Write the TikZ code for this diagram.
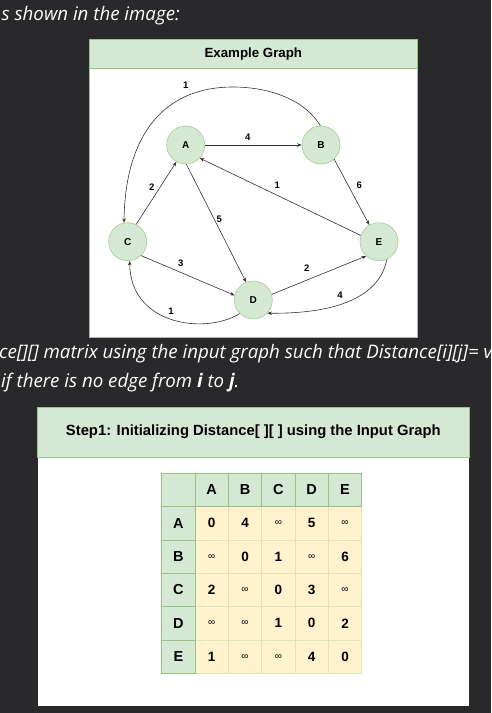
\documentclass[tikz,border=0pt]{standalone}
\usepackage{fontspec}
\setmainfont{Liberation Sans}
\newfontfamily\bodyfont{Open Sans}
\usetikzlibrary{arrows.meta}
\definecolor{bg}{HTML}{29292B}
\definecolor{gfill}{HTML}{D5E8D4}
\definecolor{gline}{HTML}{82B366}
\definecolor{yfill}{HTML}{FFF2CC}
\definecolor{yline}{HTML}{DDE4B6}
\definecolor{edgec}{HTML}{333333}
\tikzset{
  vtx/.style={circle, fill=gfill, draw=gline!70, line width=0.6pt, minimum size=38pt, inner sep=0pt, font=\bfseries\fontsize{10}{11}\selectfont},
  arr/.style={-{Stealth[length=4.5pt,width=3.5pt]}, draw=edgec, line width=0.6pt},
  elab/.style={inner sep=0pt, font=\bfseries\fontsize{9.5}{10}\selectfont},
  body/.style={inner sep=0pt, text=white, font=\bodyfont\itshape\fontsize{18.7}{21}\selectfont},
  cell/.style={draw=yline, fill=yfill, minimum width=33.33pt, minimum height=33.33pt, inner sep=0pt, line width=0.7pt, font=\bfseries\fontsize{13.5}{14}\selectfont},
  infcell/.style={cell, font=\fontsize{10}{11}\selectfont},
  hcell/.style={cell, draw=gline!80, fill=gfill, font=\bfseries\fontsize{14.5}{15}\selectfont}
}
\begin{document}
\begin{tikzpicture}[x=1pt,y=-1pt]
\useasboundingbox (0,0) rectangle (491,713);
\fill[bg] (0,0) rectangle (491,713);

% top text
\node[body, anchor=base east] (t0) at (180,20) {s shown in the image:};

% graph box
\draw[fill=white, draw=gray!60, line width=0.7pt] (89,39.3) rectangle (417.5,337.3);
\draw[fill=gfill, draw=gline!80, line width=0.7pt] (89,39.3) rectangle (417.5,68.3);
\node[font=\bfseries\fontsize{13.3}{14}\selectfont] (gtitle) at (253.3,53.8) {Example Graph};

% vertices
\node[vtx] (A) at (185.7,145) {A};
\node[vtx] (B) at (321,145) {B};
\node[vtx] (C) at (127.7,241.7) {C};
\node[vtx] (D) at (253.3,300) {D};
\node[vtx] (E) at (379,241.7) {E};

% edges
\draw[arr] (A) -- (B);
\draw[arr] (B.92) .. controls (305,100) and (270,87) .. (233,87) .. controls (160,87) and (125,140) .. (C.101);
\draw[arr] (C.64) -- (A.-119);
\draw[arr] (A.-88) -- (D.112);
\draw[arr] (E.161) -- (A.-43);
\draw[arr] (B.-47) -- (E.120);
\draw[arr] (C.-46) -- (D.166);
\draw[arr] (D.17) -- (E.-132);
\draw[arr] (E.-66) .. controls (380,295) and (340,314) .. (D.-43);
\draw[arr] (D.-135) .. controls (205,335) and (130,325) .. (C.-84);

% edge labels
\node[elab] (l1) at (247.7,137.7) {4};
\node[elab] (l2) at (185.7,85) {1};
\node[elab] (l3) at (151.7,186.7) {2};
\node[elab] (l4) at (219.3,219.3) {5};
\node[elab] (l5) at (277.3,185.7) {1};
\node[elab] (l6) at (359.3,185.7) {6};
\node[elab] (l7) at (180.7,263.3) {3};
\node[elab] (l8) at (306.7,268.3) {2};
\node[elab] (l9) at (340,295) {4};
\node[elab] (l10) at (171,311.7) {1};

% body text
\node[body, anchor=base west] (t1) at (-1,358.3) {ce[][] matrix using the input graph such that Distance[i][j]= v};
\node[body, anchor=base west] (t2) at (1,387.3) {if there is no edge from {\bfseries i} to {\bfseries j}.};

% step box
\draw[fill=white, draw=black!85, line width=0.8pt] (37.3,407.7) rectangle (469.3,706);
\draw[fill=gfill, draw=gline!80, line width=0.7pt] (37.3,407.7) rectangle (469.3,457.3);
\node[font=\bfseries\fontsize{14.8}{15}\selectfont] (stitle) at (253.3,431.7) {Step1: Initializing Distance[ ][ ] using the Input Graph};

% table
\foreach \r/\vals in {1/{0,4,I,5,I},2/{I,0,1,I,6},3/{2,I,0,3,I},4/{I,I,1,0,2},5/{1,I,I,4,0}} {
  \foreach \v [count=\c] in \vals {
    \if I\v
      \node[infcell] (m\r\c) at (161.7+16.67+33.33*\c, 473.3+16.67+33.33*\r) {∞};
    \else
      \node[cell] (m\r\c) at (161.7+16.67+33.33*\c, 473.3+16.67+33.33*\r) {\v};
    \fi
  }
}
\node[hcell] (corner) at (161.7+16.67, 473.3+16.67) {};
\foreach \n [count=\k] in {A,B,C,D,E} {
  \node[hcell] (h\n) at (161.7+16.67+33.33*\k, 473.3+16.67) {\n};
  \node[hcell] (r\n) at (161.7+16.67, 473.3+16.67+33.33*\k) {\n};
}
\end{tikzpicture}
\end{document}
